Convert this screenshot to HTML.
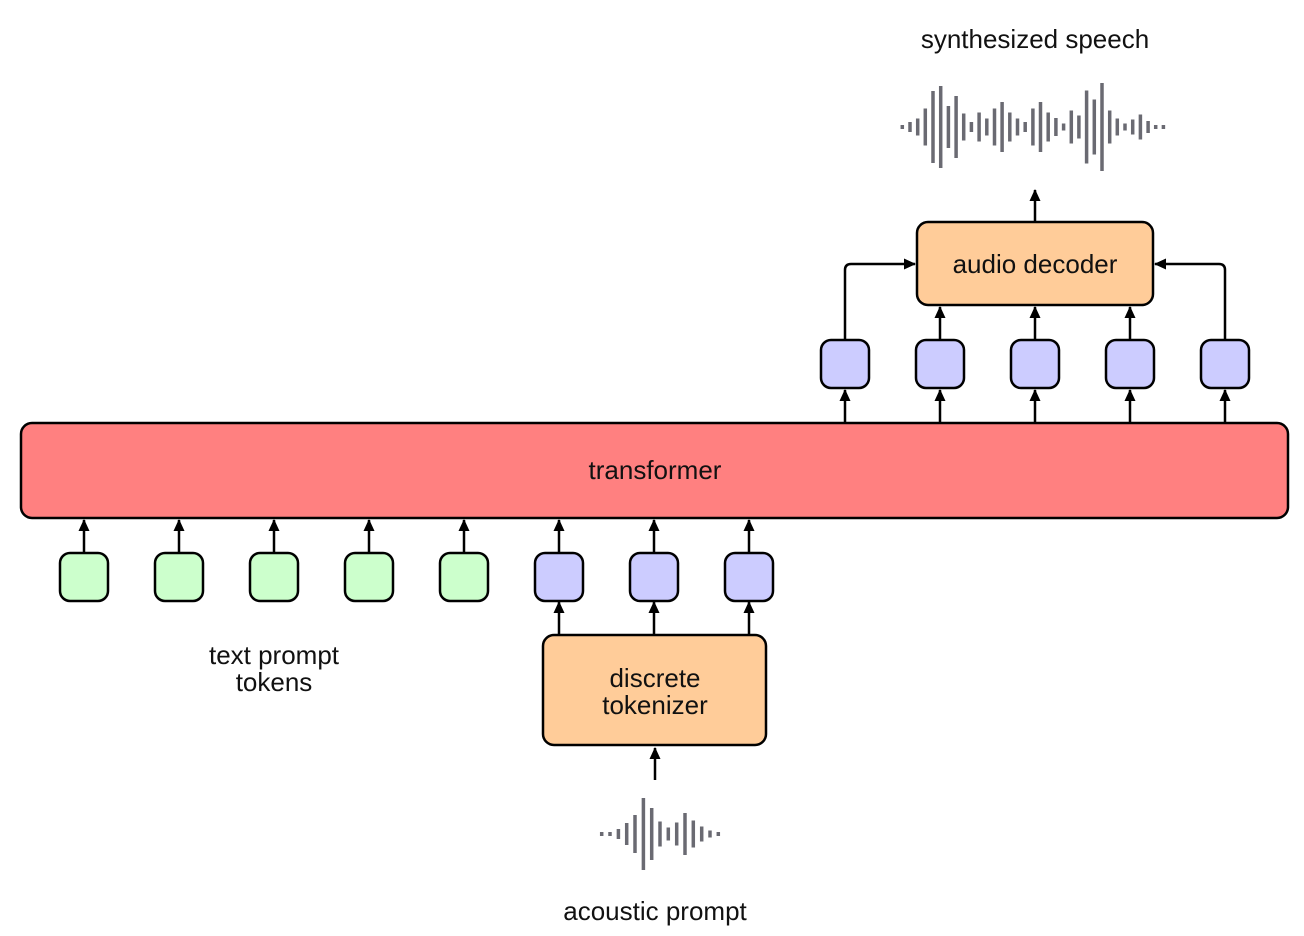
<!DOCTYPE html>
<html><head><meta charset="utf-8"><style>html,body{margin:0;padding:0;background:#fff}svg{display:block}text{font-family:"Liberation Sans",Arial,sans-serif;font-size:26px;fill:#111;text-anchor:middle}</style></head><body>
<svg width="1304" height="936" viewBox="0 0 1304 936" xmlns="http://www.w3.org/2000/svg">
<defs><marker id="a" markerWidth="13" markerHeight="12" refX="11" refY="6" orient="auto" markerUnits="userSpaceOnUse"><path d="M0,0.5 L12,6 L0,11.5 z" fill="#000"/></marker></defs>
<text x="1035" y="48">synthesized speech</text>
<g stroke="#6a6a72" stroke-width="3.5">
<line x1="902.3" y1="125" x2="902.3" y2="129"/><line x1="910" y1="122" x2="910" y2="132"/><line x1="917.7" y1="118.5" x2="917.7" y2="135.5"/><line x1="925.3" y1="108.5" x2="925.3" y2="145.5"/><line x1="933" y1="91" x2="933" y2="163"/><line x1="940.7" y1="86" x2="940.7" y2="168"/><line x1="948.4" y1="106" x2="948.4" y2="148"/><line x1="956.1" y1="96" x2="956.1" y2="158"/><line x1="963.7" y1="113.5" x2="963.7" y2="140.5"/><line x1="971.4" y1="122" x2="971.4" y2="132"/><line x1="979.1" y1="112.5" x2="979.1" y2="141.5"/><line x1="986.8" y1="118.5" x2="986.8" y2="135.5"/><line x1="994.5" y1="108.5" x2="994.5" y2="145.5"/><line x1="1002.1" y1="102" x2="1002.1" y2="152"/><line x1="1009.8" y1="112.5" x2="1009.8" y2="141.5"/><line x1="1017.5" y1="118.5" x2="1017.5" y2="135.5"/><line x1="1025.2" y1="122" x2="1025.2" y2="132"/><line x1="1032.9" y1="108.5" x2="1032.9" y2="145.5"/><line x1="1040.5" y1="102" x2="1040.5" y2="152"/><line x1="1048.2" y1="112.5" x2="1048.2" y2="141.5"/><line x1="1055.9" y1="118" x2="1055.9" y2="136"/><line x1="1063.6" y1="123.5" x2="1063.6" y2="130.5"/><line x1="1071.3" y1="110.5" x2="1071.3" y2="143.5"/><line x1="1078.9" y1="115.5" x2="1078.9" y2="138.5"/><line x1="1086.6" y1="90.5" x2="1086.6" y2="163.5"/><line x1="1094.3" y1="99.5" x2="1094.3" y2="154.5"/><line x1="1102" y1="83" x2="1102" y2="171"/><line x1="1109.7" y1="110.5" x2="1109.7" y2="143.5"/><line x1="1117.3" y1="118.5" x2="1117.3" y2="135.5"/><line x1="1125" y1="123.5" x2="1125" y2="130.5"/><line x1="1132.7" y1="119.5" x2="1132.7" y2="134.5"/><line x1="1140.4" y1="114.5" x2="1140.4" y2="139.5"/><line x1="1148.1" y1="121" x2="1148.1" y2="133"/><line x1="1155.7" y1="125" x2="1155.7" y2="129"/><line x1="1163.4" y1="125" x2="1163.4" y2="129"/>
<line x1="601.7" y1="832" x2="601.7" y2="836"/><line x1="610" y1="832" x2="610" y2="836"/><line x1="618.4" y1="829" x2="618.4" y2="839"/><line x1="626.7" y1="823" x2="626.7" y2="845"/><line x1="635" y1="815" x2="635" y2="853"/><line x1="643.4" y1="798" x2="643.4" y2="870"/><line x1="651.7" y1="808" x2="651.7" y2="860"/><line x1="660" y1="821.5" x2="660" y2="846.5"/><line x1="668.3" y1="827.5" x2="668.3" y2="840.5"/><line x1="676.7" y1="822.5" x2="676.7" y2="845.5"/><line x1="685" y1="813" x2="685" y2="855"/><line x1="693.3" y1="820.5" x2="693.3" y2="847.5"/><line x1="701.7" y1="826.5" x2="701.7" y2="841.5"/><line x1="710" y1="830.5" x2="710" y2="837.5"/><line x1="718.3" y1="832" x2="718.3" y2="836"/>
</g>
<g stroke="#000" stroke-width="2.5" fill="none">
<line x1="1035" y1="221" x2="1035" y2="190" marker-end="url(#a)"/>
<path d="M845,340 V270 Q845,264 851,264 H915" marker-end="url(#a)"/>
<path d="M1225,340 V270 Q1225,264 1219,264 H1155" marker-end="url(#a)"/>
<line x1="940" y1="340" x2="940" y2="307" marker-end="url(#a)"/>
<line x1="1035" y1="340" x2="1035" y2="307" marker-end="url(#a)"/>
<line x1="1130" y1="340" x2="1130" y2="307" marker-end="url(#a)"/>
<line x1="845" y1="423" x2="845" y2="390" marker-end="url(#a)"/>
<line x1="940" y1="423" x2="940" y2="390" marker-end="url(#a)"/>
<line x1="1035" y1="423" x2="1035" y2="390" marker-end="url(#a)"/>
<line x1="1130" y1="423" x2="1130" y2="390" marker-end="url(#a)"/>
<line x1="1225" y1="423" x2="1225" y2="390" marker-end="url(#a)"/>
<line x1="84" y1="552" x2="84" y2="520" marker-end="url(#a)"/>
<line x1="179" y1="552" x2="179" y2="520" marker-end="url(#a)"/>
<line x1="274" y1="552" x2="274" y2="520" marker-end="url(#a)"/>
<line x1="369" y1="552" x2="369" y2="520" marker-end="url(#a)"/>
<line x1="464" y1="552" x2="464" y2="520" marker-end="url(#a)"/>
<line x1="559" y1="552" x2="559" y2="520" marker-end="url(#a)"/>
<line x1="654" y1="552" x2="654" y2="520" marker-end="url(#a)"/>
<line x1="749" y1="552" x2="749" y2="520" marker-end="url(#a)"/>
<line x1="559" y1="635" x2="559" y2="602" marker-end="url(#a)"/>
<line x1="654" y1="635" x2="654" y2="602" marker-end="url(#a)"/>
<line x1="749" y1="635" x2="749" y2="602" marker-end="url(#a)"/>
<line x1="655" y1="780" x2="655" y2="748" marker-end="url(#a)"/>
</g>
<g stroke="#000" stroke-width="2.5">
<rect x="917" y="222" width="236" height="83" rx="11" fill="#ffcc99"/>
<rect x="21" y="423" width="1267" height="95" rx="11" fill="#ff8080"/>
<rect x="543" y="635" width="223" height="110" rx="11" fill="#ffcc99"/>
<g fill="#ccccff">
<rect x="821" y="340" width="48" height="48" rx="10"/><rect x="916" y="340" width="48" height="48" rx="10"/><rect x="1011" y="340" width="48" height="48" rx="10"/><rect x="1106" y="340" width="48" height="48" rx="10"/><rect x="1201" y="340" width="48" height="48" rx="10"/>
<rect x="535" y="553" width="48" height="48" rx="10"/><rect x="630" y="553" width="48" height="48" rx="10"/><rect x="725" y="553" width="48" height="48" rx="10"/>
</g>
<g fill="#ccffcc">
<rect x="60" y="553" width="48" height="48" rx="10"/><rect x="155" y="553" width="48" height="48" rx="10"/><rect x="250" y="553" width="48" height="48" rx="10"/><rect x="345" y="553" width="48" height="48" rx="10"/><rect x="440" y="553" width="48" height="48" rx="10"/>
</g>
</g>
<text x="1035" y="273">audio decoder</text>
<text x="655" y="479">transformer</text>
<text x="655" y="687">discrete</text>
<text x="655" y="714">tokenizer</text>
<text x="274" y="664">text prompt</text>
<text x="274" y="691">tokens</text>
<text x="655" y="920">acoustic prompt</text>
</svg>
</body></html>
